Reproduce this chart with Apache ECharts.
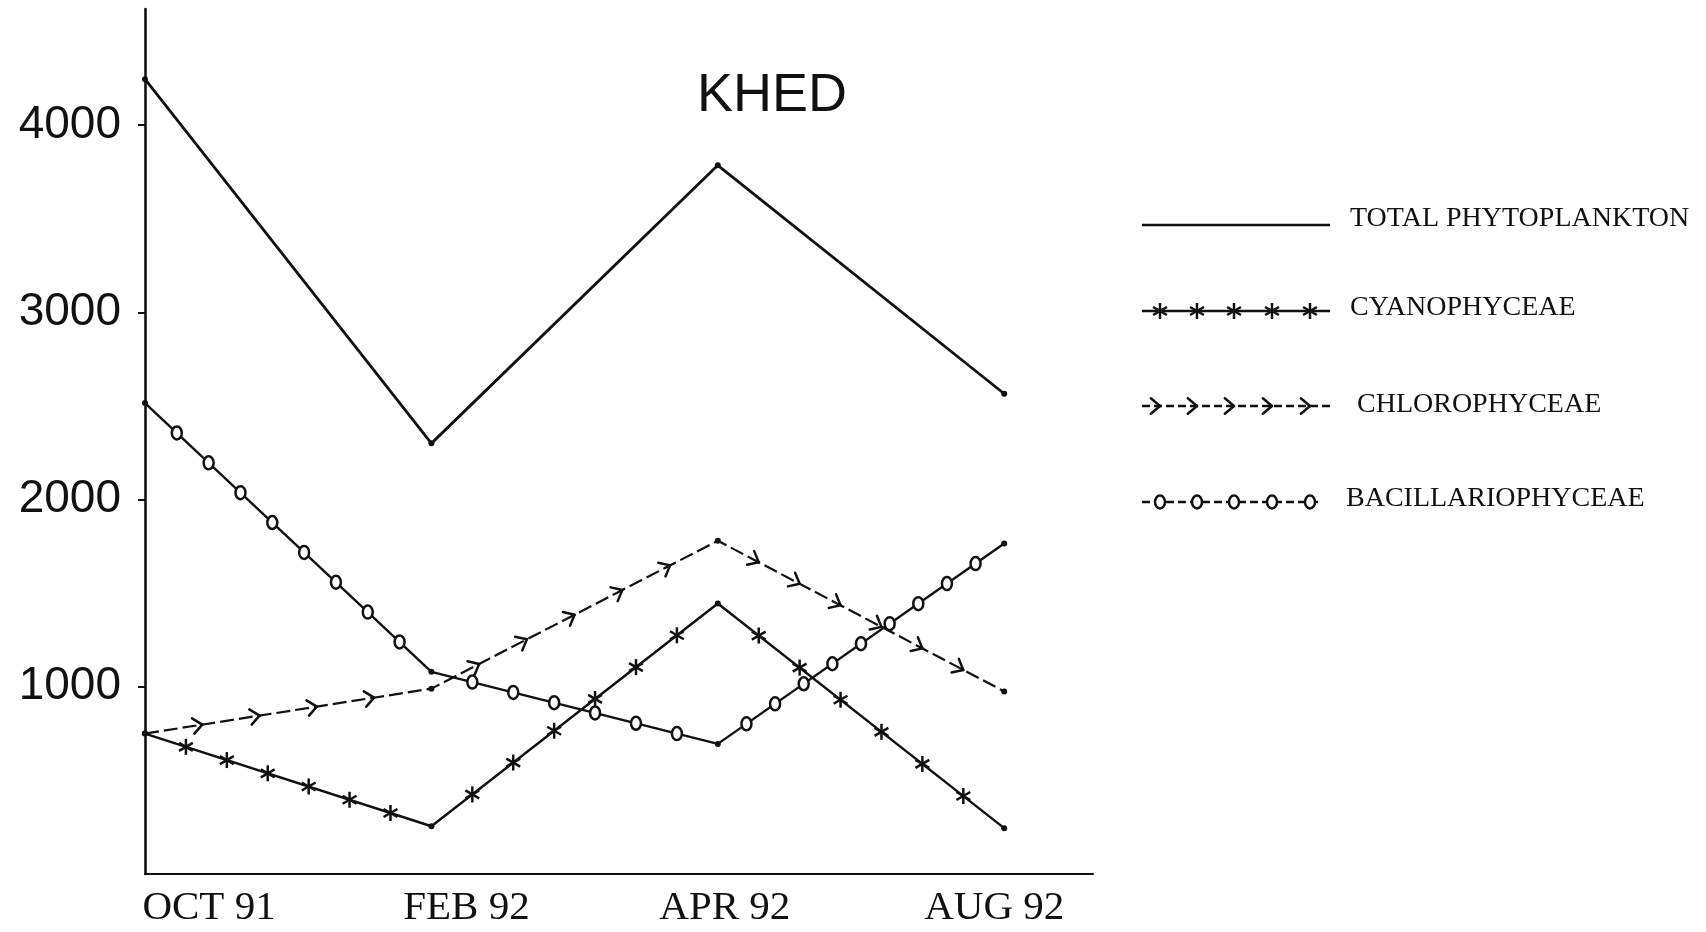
<!DOCTYPE html>
<html>
<head>
<meta charset="utf-8">
<script src="https://cdn.jsdelivr.net/npm/echarts@6/dist/echarts.min.js"></script>
<style>
  html, body { margin: 0; padding: 0; background: #ffffff; }
  #chart { width: 1706px; height: 932px; }
</style>
</head>
<body>
<div id="chart"></div>
<script>
// Sampling dates and phytoplankton counts at Khed
const categories = ['OCT 91', 'FEB 92', 'APR 92', 'AUG 92'];
const totalPhytoplankton = [4245, 2300, 3785, 2565];
const cyanophyceae = [750, 255, 1445, 245];
const chlorophyceae = [750, 990, 1780, 975];
const bacillariophyceae = [2515, 1080, 695, 1765];
const yTickValues = [1000, 2000, 3000, 4000];

const INK = '#111111';
const SERIF = '"Liberation Serif", "Times New Roman", serif';
const SANS = '"Liberation Sans", Arial, sans-serif';

// ---- marker shapes drawn along the lines ----
function starShape(x, y, r) {
  const parts = [];
  [90, 30, -30].forEach(function (deg) {
    const a = deg * Math.PI / 180;
    parts.push({
      type: 'line',
      shape: { x1: x - r * Math.cos(a), y1: y - r * Math.sin(a), x2: x + r * Math.cos(a), y2: y + r * Math.sin(a) },
      style: { stroke: INK, lineWidth: 2.5 }
    });
  });
  return parts;
}
function chevronShape(x, y, dir, len) {
  const parts = [];
  [-0.7, 0.7].forEach(function (off) {
    const a = dir + Math.PI + off;
    parts.push({
      type: 'line',
      shape: { x1: x, y1: y, x2: x + len * Math.cos(a), y2: y + len * Math.sin(a) },
      style: { stroke: INK, lineWidth: 2.5, lineCap: 'round' }
    });
  });
  return parts;
}
function ringShape(x, y) {
  return [{
    type: 'ellipse',
    shape: { cx: x, cy: y, rx: 5, ry: 6.5 },
    style: { fill: '#ffffff', stroke: INK, lineWidth: 2.5 }
  }];
}
function makeMarker(kind, x, y, dir) {
  if (kind === 'star') return starShape(x, y, 8);
  if (kind === 'chevron') return chevronShape(x, y, dir, 12);
  return ringShape(x, y);
}

// Decorations placed along each segment between two sampled values
function markerSeries(name, values, kind, counts) {
  return {
    type: 'custom',
    name: name,
    silent: true,
    z: 5,
    clip: false,
    data: values.slice(0, -1).map(function (v, i) { return [i, v, i + 1, values[i + 1]]; }),
    renderItem: function (params, api) {
      const a = api.coord([api.value(0), api.value(1)]);
      const b = api.coord([api.value(2), api.value(3)]);
      const n = counts[params.dataIndex];
      const dir = Math.atan2(b[1] - a[1], b[0] - a[0]);
      let children = [];
      for (let k = 1; k <= n; k++) {
        const t = k / (n + 1);
        children = children.concat(makeMarker(kind, a[0] + (b[0] - a[0]) * t, a[1] + (b[1] - a[1]) * t, dir));
      }
      return { type: 'group', children: children };
    }
  };
}

function lineSeries(name, values, width, dash) {
  return {
    type: 'line',
    name: name,
    data: values.map(function (v, i) { return [i, v]; }),
    symbol: 'circle',
    symbolSize: 6,
    itemStyle: { color: INK },
    lineStyle: { color: INK, width: width, type: dash || 'solid' },
    z: 3,
    animation: false
  };
}

// ---- legend on the right ----
const legendRows = [
  { label: 'TOTAL PHYTOPLANKTON', kind: null, y: 225, ty: 219, tx: 1350, dash: null },
  { label: 'CYANOPHYCEAE', kind: 'star', y: 311, ty: 308, tx: 1350, dash: null },
  { label: 'CHLOROPHYCEAE', kind: 'chevron', y: 406, ty: 405, tx: 1357, dash: [8, 4] },
  { label: 'BACILLARIOPHYCEAE', kind: 'ring', y: 502, ty: 499, tx: 1346, dash: [8, 4] }
];
const legendGraphics = [];
legendRows.forEach(function (row) {
  legendGraphics.push({
    type: 'line',
    shape: { x1: 1142, y1: row.y, x2: row.kind === 'ring' ? 1318 : 1330, y2: row.y },
    style: { stroke: INK, lineWidth: 2.6, lineDash: row.dash }
  });
  if (row.kind) {
    [1160, 1197, 1234, 1272, 1310].forEach(function (mx) {
      makeMarker(row.kind, mx, row.y, 0).forEach(function (el) { legendGraphics.push(el); });
    });
  }
  legendGraphics.push({
    type: 'text',
    x: row.tx, y: row.ty,
    style: { text: row.label, font: '28px ' + SERIF, fill: INK, textVerticalAlign: 'middle' }
  });
});

const chart = echarts.init(document.getElementById('chart'), null, { renderer: 'canvas' });
chart.setOption({
  backgroundColor: '#ffffff',
  animation: false,
  title: {
    text: 'KHED',
    left: 692,
    top: 64,
    textStyle: { fontFamily: SANS, fontSize: 54, fontWeight: 'normal', color: INK }
  },
  grid: { left: 145, right: 613, top: 9, bottom: 58 },
  xAxis: {
    type: 'value',
    min: 0,
    max: 3.31,
    interval: 1,
    splitLine: { show: false },
    axisTick: { show: false },
    axisLine: { lineStyle: { color: INK, width: 2.2 } },
    axisLabel: {
      customValues: [0, 1, 2, 3],
      margin: 14,
      color: INK,
      fontFamily: SERIF,
      fontSize: 41,
      formatter: function (v) { return '{c' + v + '|' + categories[v] + '}'; },
      rich: {
        c0: { fontFamily: SERIF, fontSize: 41, color: INK, padding: [0, 0, 0, 128] },
        c1: { fontFamily: SERIF, fontSize: 41, color: INK, padding: [0, 0, 0, 70] },
        c2: { fontFamily: SERIF, fontSize: 41, color: INK, padding: [0, 0, 0, 14] },
        c3: { fontFamily: SERIF, fontSize: 41, color: INK, padding: [0, 20, 0, 0] }
      }
    }
  },
  yAxis: {
    type: 'value',
    min: 0,
    max: 4620,
    interval: 1000,
    splitLine: { show: false },
    axisLine: { show: true, lineStyle: { color: INK, width: 2.6 } },
    axisTick: { show: true, customValues: yTickValues, length: 7, lineStyle: { color: INK, width: 2 } },
    axisLabel: {
      customValues: yTickValues,
      margin: 24,
      color: INK,
      fontFamily: SANS,
      fontSize: 46,
      formatter: function (v) { return String(v); }
    }
  },
  graphic: legendGraphics,
  series: [
    lineSeries('TOTAL PHYTOPLANKTON', totalPhytoplankton, 2.8),
    lineSeries('CYANOPHYCEAE', cyanophyceae, 2.4),
    lineSeries('CHLOROPHYCEAE', chlorophyceae, 2.2, [14, 5]),
    lineSeries('BACILLARIOPHYCEAE', bacillariophyceae, 2.4),
    markerSeries('CYANOPHYCEAE', cyanophyceae, 'star', [6, 6, 6]),
    markerSeries('CHLOROPHYCEAE', chlorophyceae, 'chevron', [4, 5, 6]),
    markerSeries('BACILLARIOPHYCEAE', bacillariophyceae, 'ring', [8, 6, 9])
  ]
});
</script>
</body>
</html>
